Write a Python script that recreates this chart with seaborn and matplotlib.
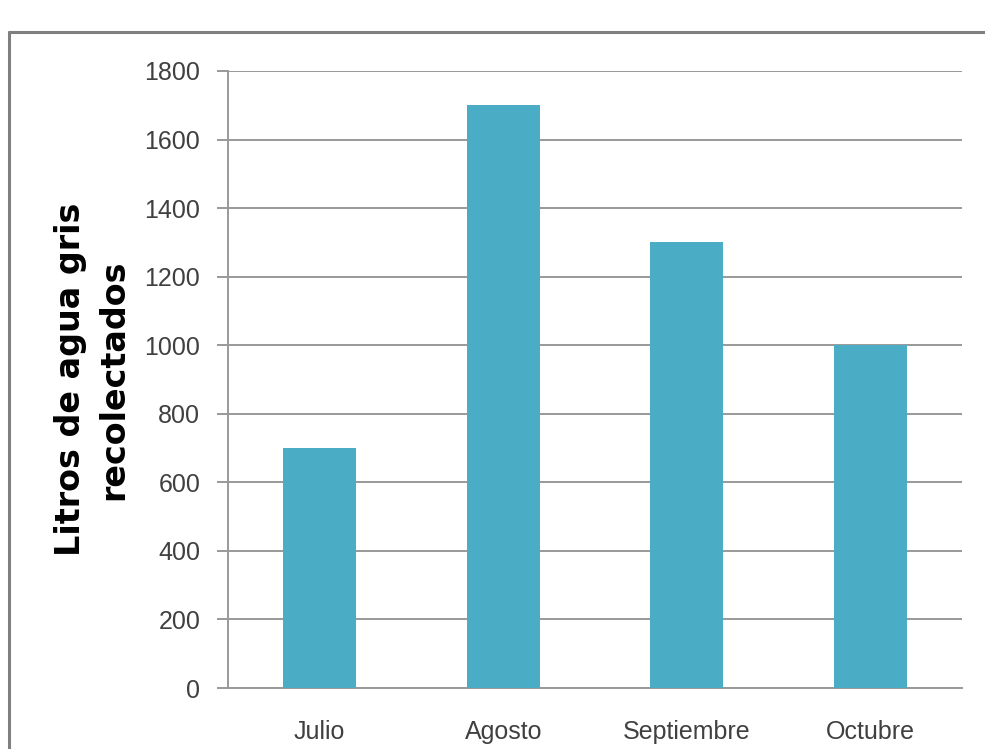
import matplotlib
matplotlib.use("Agg")
import matplotlib.pyplot as plt
from matplotlib.lines import Line2D
import seaborn as sns
import pandas as pd

meses = ["Julio", "Agosto", "Septiembre", "Octubre"]
litros = [700, 1700, 1300, 1000]
yticks = [0, 200, 400, 600, 800, 1000, 1200, 1400, 1600, 1800]
ylabel = "Litros de agua gris\nrecolectados"

sns.set_theme(style="white")
plt.rcParams['font.family'] = ['Liberation Sans', 'DejaVu Sans']

df = pd.DataFrame({"mes": meses, "litros": litros})

fig = plt.figure(figsize=(9.85, 7.49), dpi=100)
ax = fig.add_axes([228/985, (749-688)/749, (962-228)/985, (688-71)/749])

sns.barplot(data=df, x="mes", y="litros", color="#4BACC6", saturation=1,
            width=0.4, linewidth=0, ax=ax, zorder=3)

ax.set_ylim(0, 1800)
ax.set_xlim(-0.5, 3.5)
ax.set_yticks(yticks)
ax.set_yticklabels([str(v) for v in yticks], fontsize=18, color="#404040")
ax.yaxis.grid(True, color="#999999", linewidth=1.4, zorder=0)
ax.set_axisbelow(True)

# category labels at centers, tick marks at boundaries
ax.set_xticks([0, 1, 2, 3])
ax.set_xticklabels(meses, fontsize=18, color="#404040")
ax.tick_params(axis="x", length=0, pad=23)
ax.set_xticks([-0.5, 0.5, 1.5, 2.5, 3.5], minor=True)
ax.tick_params(axis="x", which="minor", length=8, width=1.4, color="#999999", direction="out")
ax.tick_params(axis="y", length=8, width=1.4, color="#999999", direction="out", left=True, pad=12)

for s in ["top", "right"]:
    ax.spines[s].set_visible(False)
for s in ["left", "bottom"]:
    ax.spines[s].set_color("#999999")
    ax.spines[s].set_linewidth(1.4)

ax.set_xlabel("")
ax.set_ylabel(ylabel, fontsize=24, fontweight="bold", family=["DejaVu Sans"],
              color="black", linespacing=1.38)
ax.yaxis.set_label_coords(-0.1335, 0.5)

# outer frame (top and left border)
fig.add_artist(Line2D([9/985, 1.0], [1-32/749, 1-32/749], transform=fig.transFigure,
                      color="#7f7f7f", linewidth=2.2))
fig.add_artist(Line2D([9/985, 9/985], [0, 1-32/749], transform=fig.transFigure,
                      color="#7f7f7f", linewidth=2.2))

fig.savefig("out.png", dpi=100)
